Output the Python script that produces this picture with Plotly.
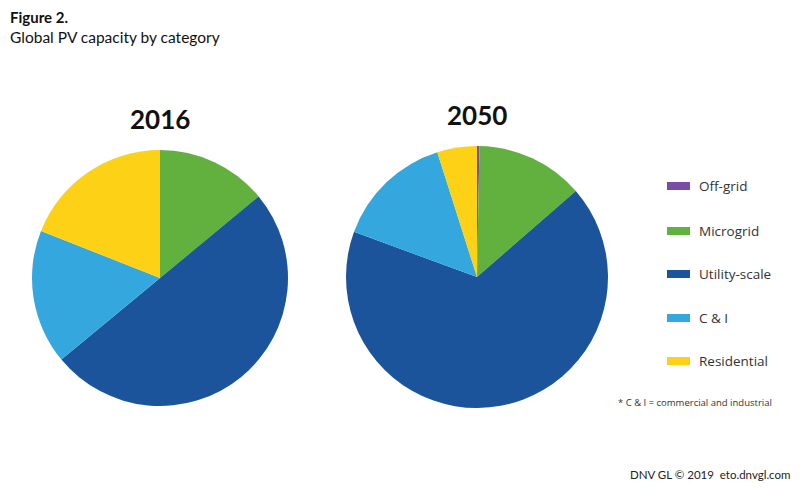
import plotly.graph_objects as go

categories = ["Off-grid", "Microgrid", "Utility-scale", "C & I", "Residential"]
values_2016 = [0, 14, 50, 17, 19]
values_2050 = [0.3, 13.3, 67, 14.5, 4.9]
years = ["2016", "2050"]
colors = ["#7B4CA6", "#62B13F", "#1C549C", "#34A7DE", "#FDD116"]

W, H = 800, 495
fig = go.Figure()

def dom(x0, x1, ytop, ybot):
    return dict(x=[x0 / W, x1 / W], y=[(H - ybot) / H, (H - ytop) / H])

fig.add_trace(go.Pie(labels=categories, values=values_2016, sort=False, direction="clockwise",
                     rotation=0, marker=dict(colors=colors, line=dict(width=0)),
                     textinfo="none", hoverinfo="label+percent", domain=dom(32, 288, 150, 406),
                     showlegend=False))
fig.add_trace(go.Pie(labels=categories, values=values_2050, sort=False, direction="clockwise",
                     rotation=0, marker=dict(colors=colors, line=dict(width=0)),
                     textinfo="none", hoverinfo="label+percent", domain=dom(346, 608, 146, 408),
                     showlegend=False))

font = "Open Sans, Lato, sans-serif"
ann = []
shapes = []
ann.append(dict(x=8 / W, y=1 - 17 / H, text="<b>Figure 2.</b>", showarrow=False, xanchor="left",
                yanchor="middle", font=dict(family="Lato, Open Sans", size=15, color="#111")))
ann.append(dict(x=8 / W, y=1 - 37 / H, text="Global PV capacity by category", showarrow=False, xanchor="left",
                yanchor="middle", font=dict(family="Lato, Open Sans", size=15.5, color="#111")))
for yr, cx, cy in zip(years, [160, 477], [119, 115]):
    ann.append(dict(x=cx / W, y=1 - cy / H, text="<b>" + yr + "</b>", showarrow=False, xanchor="center",
                    yanchor="middle", font=dict(family="Lato, Open Sans", size=26, color="#111")))

rows = [186, 231, 274, 318, 361]
for lab, col, ry in zip(categories, colors, rows):
    shapes.append(dict(type="rect", xref="paper", yref="paper", x0=667 / W, x1=690 / W,
                       y0=1 - (ry + 4) / H, y1=1 - (ry - 4) / H, fillcolor=col, line=dict(width=0)))
    ann.append(dict(x=697 / W, y=1 - ry / H, text=lab, showarrow=False, xanchor="left", yanchor="middle",
                    font=dict(family=font, size=13.5, color="#333")))
ann.append(dict(x=616 / W, y=1 - 402 / H, text="* C & I = commercial and industrial", showarrow=False,
                xanchor="left", yanchor="middle", font=dict(family=font, size=9.5, color="#333")))
ann.append(dict(x=793 / W, y=1 - 474 / H, text="DNV GL © 2019  eto.dnvgl.com", showarrow=False,
                xanchor="right", yanchor="middle", font=dict(family="Lato, Open Sans", size=11.5, color="#222")))

fig.update_layout(width=W, height=H, margin=dict(l=0, r=0, t=0, b=0), paper_bgcolor="white",
                  plot_bgcolor="white", annotations=ann, shapes=shapes, showlegend=False)
fig.write_html("out.html", config={"displayModeBar": False},
               post_script="document.body.style.margin='0';")
